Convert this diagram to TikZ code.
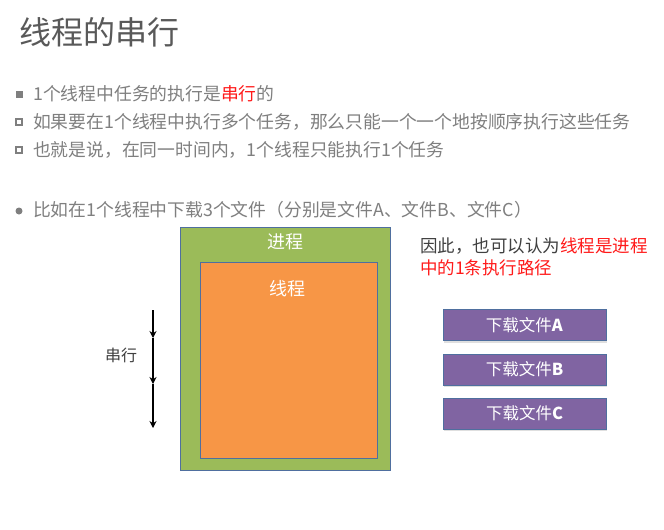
\documentclass[tikz,border=0pt]{standalone}
\usepackage{fontspec}
\setmainfont{Noto Sans CJK SC}
\newfontfamily\cjk{Noto Sans CJK SC}
\usetikzlibrary{arrows.meta,shadows}
\definecolor{titlegray}{HTML}{595959}
\definecolor{textgray}{HTML}{7F7F7F}
\definecolor{darktext}{HTML}{404040}
\definecolor{procgreen}{HTML}{9BBB59}
\definecolor{throrange}{HTML}{F79646}
\definecolor{taskpurple}{HTML}{8064A2}
\definecolor{edgeblue}{HTML}{4F6F9F}
\definecolor{hotred}{HTML}{FF1A1A}
\tikzset{
  bullettext/.style={anchor=west, inner sep=0pt, text=textgray, font=\cjk\fontsize{17.8}{20}\selectfont},
  fullsq/.style={fill=textgray, draw=none, minimum size=7pt, inner sep=0pt},
  hollowsq/.style={draw=textgray, line width=1.6pt, fill=white, minimum size=6pt, inner sep=0pt},
  dotb/.style={circle, fill=textgray, minimum size=7pt, inner sep=0pt},
  taskbox/.style={draw=edgeblue, line width=0.6pt, fill=taskpurple, minimum width=163pt, minimum height=31pt,
    text=white, font=\cjk\fontsize{16.5}{20}\selectfont, drop shadow={shadow xshift=1pt, shadow yshift=-2pt, opacity=0.25}},
  serarrow/.style={line width=1.5pt, -{Stealth[length=7pt,width=7pt]}}
}
\begin{document}
\begin{tikzpicture}[x=1pt,y=-1pt]
\useasboundingbox (0,0) rectangle (664,530);
\fill[white] (0,0) rectangle (664,530);
% title
\node[anchor=west, inner sep=0pt, text=titlegray, font=\cjk\fontsize{32}{36}\selectfont] (title) at (19,32) {线程的串行};
% bullets
\node[fullsq] (b1) at (19,94) {};
\node[bullettext] (t1) at (33,94) {1个线程中任务的执行是\textcolor{hotred}{串行}的};
\node[hollowsq] (b2) at (19,122) {};
\node[bullettext] (t2) at (33,122) {如果要在1个线程中执行多个任务，那么只能一个一个地按顺序执行这些任务};
\node[hollowsq] (b3) at (19,150) {};
\node[bullettext] (t3) at (33,150) {也就是说，在同一时间内，1个线程只能执行1个任务};
\node[dotb] (b4) at (19,211) {};
\node[bullettext] (t4) at (33,210) {比如在1个线程中下载3个文件（分别是文件A、文件B、文件C）};
% process / thread
\node[draw=edgeblue, line width=0.6pt, fill=procgreen, minimum width=210pt, minimum height=243pt, inner sep=0pt] (proc) at (285,348.5) {};
\node[text=white, font=\cjk\fontsize{18}{20}\selectfont, inner sep=0pt] (proclbl) at (285,242) {进程};
\node[draw=edgeblue, line width=0.6pt, fill=throrange, minimum width=177pt, minimum height=196pt, inner sep=0pt] (thr) at (288.5,360) {};
\node[text=white, font=\cjk\fontsize{18}{20}\selectfont, inner sep=0pt] (thrlbl) at (287,289) {线程};
% serial arrows
\coordinate (s0) at (153,310);
\coordinate (s1) at (153,338);
\coordinate (s2) at (153,384);
\coordinate (s3) at (153,428);
\draw[serarrow] (s0) -- (s1);
\draw[serarrow] (s1) -- (s2);
\draw[serarrow] (s2) -- (s3);
\node[text=darktext, font=\cjk\fontsize{16}{20}\selectfont, inner sep=0pt] (serlbl) at (121,355) {串行};
% right text
\node[anchor=north west, inner sep=0pt, align=left, text=darktext, font=\cjk\fontsize{17.5}{22}\selectfont] (note) at (420,238)
  {因此，也可以认为\textcolor{hotred}{线程是进程}\\\textcolor{hotred}{中的1条执行路径}};
% tasks
\node[taskbox] (ta) at (524.5,325) {下载文件\textbf{A}};
\node[taskbox] (tb) at (524.5,369.5) {下载文件\textbf{B}};
\node[taskbox] (tc) at (524.5,413.5) {下载文件\textbf{C}};
\end{tikzpicture}
\end{document}
